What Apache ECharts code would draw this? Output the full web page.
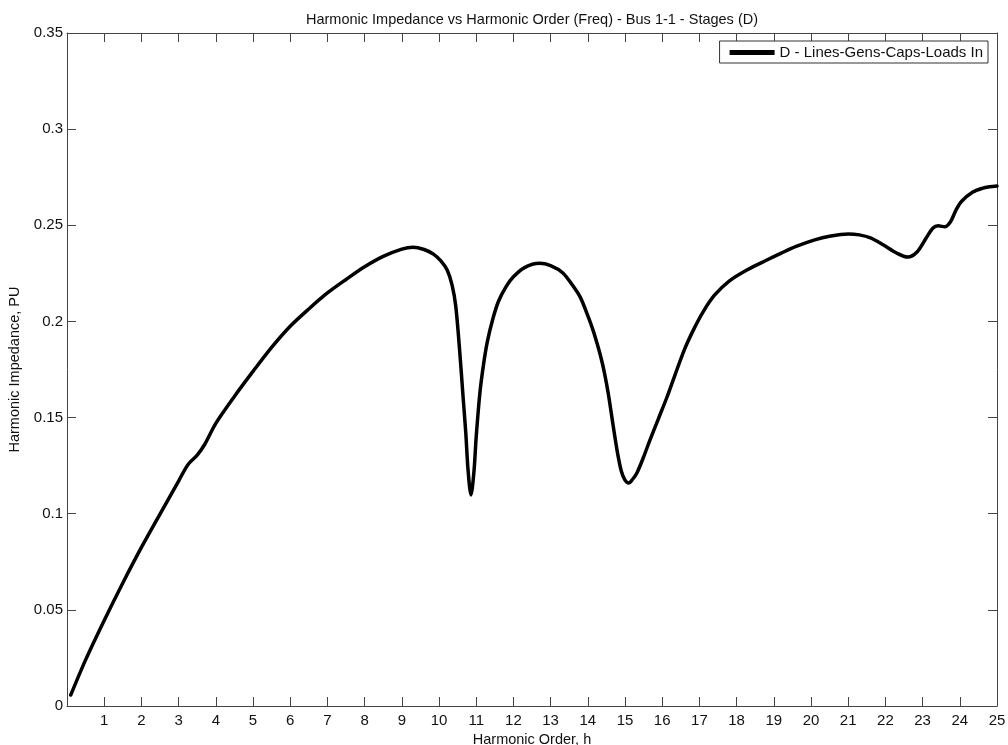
<!DOCTYPE html>
<html>
<head>
<meta charset="utf-8">
<script src="https://cdn.jsdelivr.net/npm/echarts@6/dist/echarts.min.js"></script>
<style>
  html, body { margin: 0; padding: 0; background: #fff; }
  #chart { width: 1008px; height: 745px; }
</style>
</head>
<body>
<div id="chart"></div>
<script>
// Harmonic order (h) and impedance magnitude (per unit) at Bus 1-1, stage D
const harmonicOrder = [
  0.1, 0.5, 1.0, 1.5, 2.0, 2.5, 3.0, 3.25, 3.5, 3.7, 4.0, 4.5, 5.0, 5.5,
  6.0, 6.5, 7.0, 7.5, 8.0, 8.5, 9.0, 9.3, 9.6, 9.85, 10.05, 10.22, 10.35, 10.45,
  10.56, 10.65, 10.72, 10.78, 10.86, 10.94, 11.0, 11.1, 11.2, 11.3, 11.45, 11.6,
  11.8, 12.0, 12.3, 12.7, 13.0, 13.33, 13.6, 13.8, 14.0, 14.14, 14.25, 14.35,
  14.45, 14.55, 14.68, 14.8, 14.9, 15.0, 15.1, 15.2, 15.32, 15.5, 15.67, 15.9,
  16.13, 16.35, 16.6, 16.85, 17.1, 17.4, 17.8, 18.3, 18.8, 19.2, 19.6, 20.1,
  20.5, 21.0, 21.3, 21.6, 21.95, 22.3, 22.6, 22.85, 23.1, 23.28, 23.42, 23.6,
  23.75, 23.9, 24.05, 24.35, 24.6, 24.8, 25.0
];
const impedancePU = [
  0.0057, 0.0240, 0.0445, 0.0640, 0.0825, 0.0998, 0.1170, 0.1255, 0.1305, 0.1360,
  0.1470, 0.1610, 0.1740, 0.1865, 0.1975, 0.2065, 0.2148, 0.2218, 0.2284,
  0.2338, 0.2376, 0.2386, 0.2374, 0.2350, 0.2315, 0.2267, 0.2190, 0.2080, 0.1836,
  0.1600, 0.1420, 0.1230, 0.1097, 0.1220, 0.1400, 0.1630, 0.1780, 0.1895, 0.2015,
  0.2105, 0.2180, 0.2232, 0.2280, 0.2302, 0.2290, 0.2252, 0.2185, 0.2125, 0.2030,
  0.1955, 0.1885, 0.1815, 0.1730, 0.1625, 0.1460, 0.1315, 0.1222, 0.1175, 0.1160,
  0.1178, 0.1212, 0.1295, 0.1383, 0.1495, 0.1607, 0.1725, 0.1855, 0.1960, 0.2050,
  0.2135, 0.2210, 0.2270, 0.2318, 0.2355, 0.2390, 0.2424, 0.2443, 0.2455, 0.2450,
  0.2434, 0.2397, 0.2356, 0.2335, 0.2361, 0.2435, 0.2486, 0.2497, 0.2492, 0.2518,
  0.2580, 0.2625, 0.2673, 0.2692, 0.2700, 0.2704
];
const seriesName = 'D - Lines-Gens-Caps-Loads In';
const chartTitle = 'Harmonic Impedance vs Harmonic Order (Freq) - Bus 1-1 - Stages (D)';
const xName = 'Harmonic Order, h';
const yName = 'Harmonic Impedance, PU';

const FONT = '"Liberation Sans", Arial, sans-serif';
const AXIS_COLOR = '#444';
const TEXT_COLOR = '#111';

const points = harmonicOrder.map((h, i) => [h, impedancePU[i]]);

// shared styling for the four sides of the boxed frame
const frameAxis = {
  axisLine: { show: true, onZero: false, lineStyle: { color: AXIS_COLOR, width: 1 } },
  axisTick: { show: true, inside: true, length: 9, lineStyle: { color: AXIS_COLOR } },
  splitLine: { show: false }
};

const chart = echarts.init(document.getElementById('chart'), null, { renderer: 'canvas' });
chart.setOption({
  animation: false,
  backgroundColor: '#fff',
  textStyle: { fontFamily: FONT },
  title: {
    text: chartTitle,
    left: 527, textAlign: 'center', top: 7,
    textStyle: { fontSize: 14.5, fontWeight: 'normal', color: TEXT_COLOR, fontFamily: FONT }
  },
  legend: {
    right: 20, top: 41,
    padding: [4, 5, 3, 10],
    borderColor: '#333', borderWidth: 1,
    backgroundColor: '#fff',
    icon: 'rect', itemWidth: 45, itemHeight: 5,
    textStyle: { fontSize: 15, color: TEXT_COLOR, fontFamily: FONT },
    data: [seriesName]
  },
  grid: { left: 67, right: 11, top: 33, bottom: 39, containLabel: false, outerBoundsMode: 'none' },
  xAxis: [
    Object.assign({
      type: 'value', min: 0, max: 25, interval: 1, position: 'bottom',
      name: xName, nameLocation: 'middle', nameGap: 24,
      nameTextStyle: { fontSize: 14.5, color: TEXT_COLOR, fontFamily: FONT },
      axisLabel: {
        margin: 7, fontSize: 15, color: TEXT_COLOR, fontFamily: FONT,
        formatter: v => (v === 0 ? '' : String(v))
      }
    }, frameAxis),
    Object.assign({
      type: 'value', min: 0, max: 25, interval: 1, position: 'top',
      axisLabel: { show: false }
    }, frameAxis)
  ],
  yAxis: [
    Object.assign({
      type: 'value', min: 0, max: 0.35, interval: 0.05, position: 'left',
      name: yName, nameLocation: 'middle', nameGap: 37,
      nameTextStyle: { fontSize: 14.5, color: TEXT_COLOR, fontFamily: FONT },
      axisLabel: {
        margin: 4, fontSize: 15, color: TEXT_COLOR, fontFamily: FONT,
        formatter: v => String(+v.toFixed(2))
      }
    }, frameAxis),
    Object.assign({
      type: 'value', min: 0, max: 0.35, interval: 0.05, position: 'right',
      axisLabel: { show: false }
    }, frameAxis)
  ],
  series: [{
    name: seriesName,
    type: 'line',
    xAxisIndex: 0, yAxisIndex: 0,
    data: points,
    smooth: 0.3,
    showSymbol: false,
    lineStyle: { color: '#000', width: 3.5, join: 'round', cap: 'round' },
    itemStyle: { color: '#000' }
  }]
});
</script>
</body>
</html>
